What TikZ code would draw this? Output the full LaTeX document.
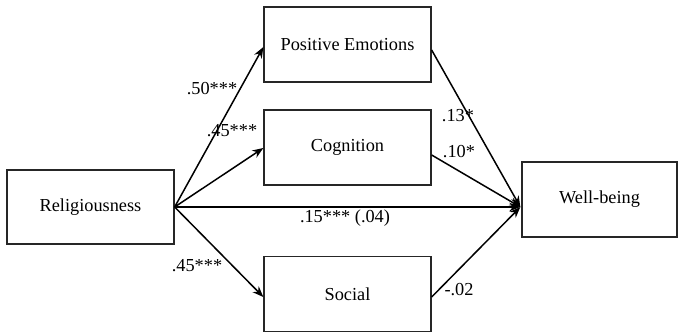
\documentclass[tikz,border=0pt]{standalone}
\usepackage{fontspec}
\setmainfont{Liberation Serif}
\usetikzlibrary{arrows.meta,calc}
\begin{document}
\begin{tikzpicture}[x=1pt,y=-1pt,
  box/.style={draw=black!85,line width=1.3pt,minimum width=167pt,minimum height=75pt,inner sep=0pt,font=\fontsize{18.3}{20}\selectfont},
  conn/.style={line width=1.5pt,-{Stealth[length=11pt,width=8.5pt]}},
  lbl/.style={font=\fontsize{18.3}{20}\selectfont,inner sep=0pt}]
\useasboundingbox (0,0) rectangle (679,333);
\node[box,minimum height=74pt] (rel) at (90.5,207) {Religiousness};
\node[box] (pe) at (347.5,44.5) {Positive Emotions};
\node[box] (cog) at (347.5,147.5) {Cognition};
\node[box] (soc) at (347.5,294) {Social};
\node[box,minimum width=155pt] (wb) at (599.5,199.5) {Well-being};
\coordinate (conv) at ($(wb.west)+(-1,7.5)$);
\draw[conn] (rel.east) -- ($(pe.west)+(0,2.5)$);
\draw[conn] (rel.east) -- ($(cog.west)+(0,0.5)$);
\draw[conn] (rel.east) -- ($(soc.west)+(0,3)$);
\draw[conn] (rel.east) -- (conv);
\draw[conn] ($(pe.east)+(0,5.5)$) -- (conv);
\draw[conn] ($(cog.east)+(0,7.5)$) -- (conv);
\draw[conn] ($(soc.east)+(0,3)$) -- (conv);
\node[lbl] (l1) at (212,89) {.50***};
\node[lbl] (l2) at (232,131) {.45***};
\node[lbl] (l3) at (345,218) {.15*** (.04)};
\node[lbl] (l4) at (197,266) {.45***};
\node[lbl] (l5) at (458,116) {.13*};
\node[lbl] (l6) at (459,152) {.10*};
\node[lbl] (l7) at (459,290) {-.02};
\end{tikzpicture}
\end{document}
